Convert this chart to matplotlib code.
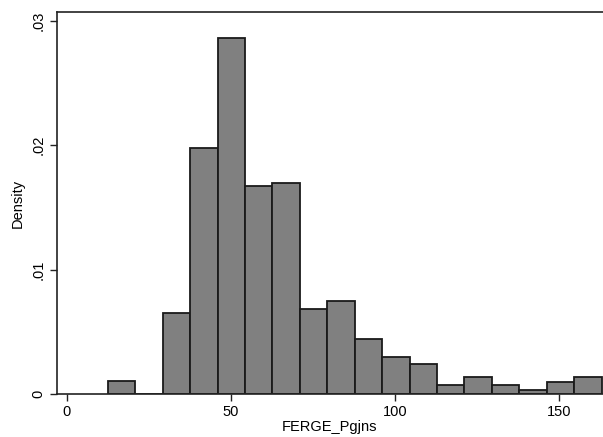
import numpy as np
import matplotlib.pyplot as plt

plt.rcParams['font.family'] = ['Liberation Sans', 'DejaVu Sans']

# histogram of FERGE_Pgjns (density scale), 18 bins
bin_start = 12.58
bin_width = 8.36
density = [0.00107, 0.0, 0.0065, 0.0198, 0.0286, 0.0167, 0.0170, 0.0068, 0.0075,
           0.0044, 0.0030, 0.0024, 0.0007, 0.0014, 0.0007, 0.00036, 0.0010, 0.0014]
edges = bin_start + bin_width * np.arange(len(density) + 1)

xticks = [0, 50, 100, 150]
yticks = [0, 0.01, 0.02, 0.03]
ytick_labels = ['0', '.01', '.02', '.03']

fig = plt.figure(figsize=(6.03, 4.37), dpi=100)
ax = fig.add_axes([0.094, 0.0984, 0.906, 0.874])

ax.bar(edges[:-1], density, width=bin_width, align='edge',
       color='#808080', edgecolor='#1a1a1a', linewidth=1.3)

ax.set_xlim(-3.05, 163.5)
ax.set_ylim(0, 0.0307)
ax.set_xticks(xticks)
ax.set_yticks(yticks)
ax.set_yticklabels(ytick_labels, rotation=90, va='center')
ax.tick_params(direction='out', length=5, width=1, colors='#222222',
               labelsize=10.5, labelcolor='black', pad=3)

for s in ['left', 'bottom', 'top']:
    ax.spines[s].set_linewidth(1.2)
    ax.spines[s].set_color('#222222')
ax.spines['right'].set_visible(False)

ax.set_xlabel('FERGE_Pgjns', fontsize=10.5, labelpad=1)
ax.set_ylabel('Density', fontsize=10.5, labelpad=5)

fig.savefig('out.png', dpi=100)
